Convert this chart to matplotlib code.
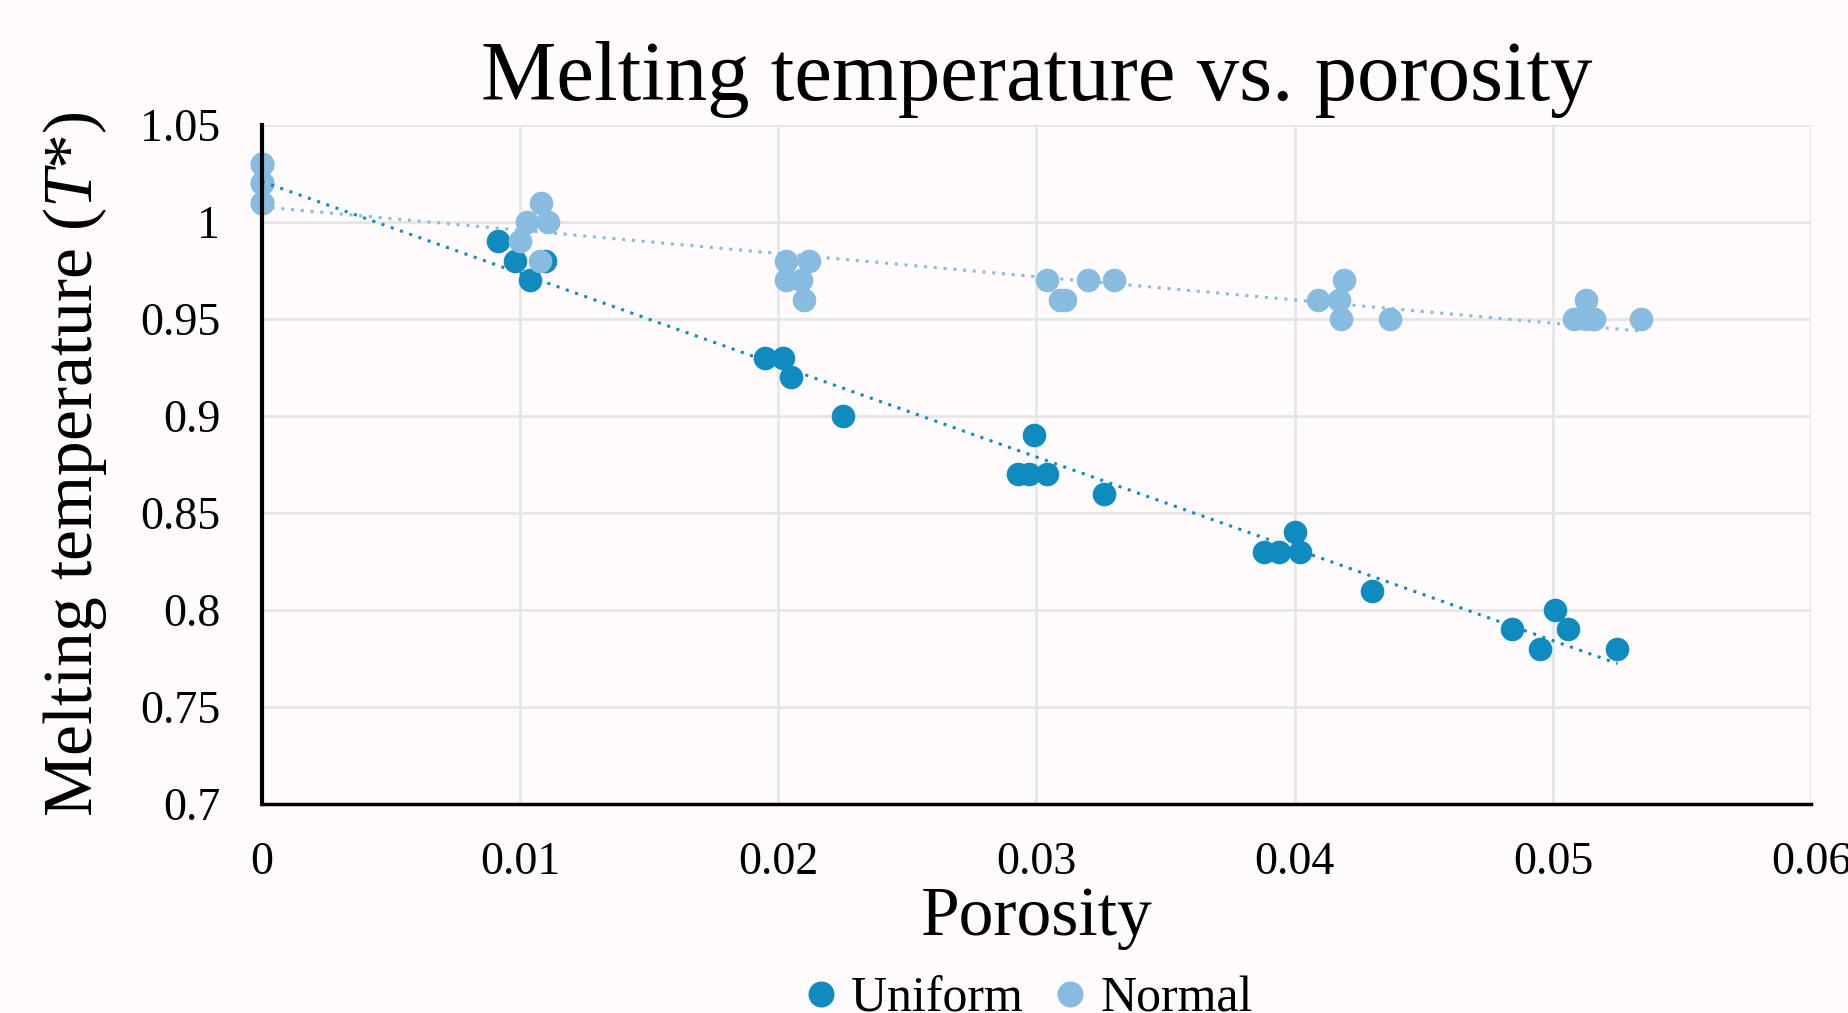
import numpy as np
import matplotlib
matplotlib.use("Agg")
import matplotlib.pyplot as plt

# Porosity / melting temperature
uniform_x = [0.0, 0.0, 0.0, 0.00913, 0.00982, 0.01037, 0.01096,
             0.0195, 0.0202, 0.0205, 0.0225,
             0.0293, 0.0297, 0.0299, 0.0304, 0.0326,
             0.0388, 0.0394, 0.0400, 0.0402, 0.0430,
             0.0484, 0.0495, 0.0501, 0.0506, 0.0525]
uniform_y = [1.03, 1.02, 1.01, 0.99, 0.98, 0.97, 0.98,
             0.93, 0.93, 0.92, 0.90,
             0.87, 0.87, 0.89, 0.87, 0.86,
             0.83, 0.83, 0.84, 0.83, 0.81,
             0.79, 0.78, 0.80, 0.79, 0.78]

normal_x = [0.0, 0.0, 0.0, 0.0100, 0.01027, 0.0108, 0.0111, 0.01078,
            0.0203, 0.0212, 0.0203, 0.0209, 0.0210,
            0.0304, 0.0309, 0.0311, 0.0320, 0.0330,
            0.0409, 0.0417, 0.0419, 0.0418, 0.0437,
            0.0508, 0.0513, 0.0513, 0.0516, 0.0534]
normal_y = [1.03, 1.02, 1.01, 0.99, 1.00, 1.01, 1.00, 0.98,
            0.98, 0.98, 0.97, 0.97, 0.96,
            0.97, 0.96, 0.96, 0.97, 0.97,
            0.96, 0.96, 0.97, 0.95, 0.95,
            0.95, 0.96, 0.95, 0.95, 0.95]

x_ticks = [0, 0.01, 0.02, 0.03, 0.04, 0.05, 0.06]
x_tick_labels = ["0", "0.01", "0.02", "0.03", "0.04", "0.05", "0.06"]
y_ticks = [0.7, 0.75, 0.8, 0.85, 0.9, 0.95, 1.0, 1.05]
y_tick_labels = ["0.7", "0.75", "0.8", "0.85", "0.9", "0.95", "1", "1.05"]

UNIFORM_COLOR = "#0F8BBF"
NORMAL_COLOR = "#88BBE0"
BG = "#FFFBFD"

plt.rcParams["font.family"] = ["Liberation Serif", "DejaVu Serif"]
plt.rcParams["mathtext.fontset"] = "custom"
plt.rcParams["mathtext.it"] = "Liberation Serif:italic"
plt.rcParams["mathtext.rm"] = "Liberation Serif"

fig = plt.figure(figsize=(18.49, 10.13), dpi=100, facecolor=BG)
ax = fig.add_axes([0.1416, 0.2063, 0.8379, 0.6703], facecolor=BG)

# grid
ax.set_axisbelow(True)
ax.grid(True, color="#E6E6E6", linewidth=2)

# scatter points
ax.plot(uniform_x, uniform_y, "o", color=UNIFORM_COLOR, markersize=17,
        markeredgewidth=0, label="Uniform", zorder=3, clip_on=False)
ax.plot(normal_x, normal_y, "o", color=NORMAL_COLOR, markersize=17,
        markeredgewidth=0, label="Normal", zorder=4, clip_on=False)

# linear trendlines
for xs, ys, col in [(uniform_x, uniform_y, UNIFORM_COLOR),
                    (normal_x, normal_y, NORMAL_COLOR)]:
    k, b = np.polyfit(xs, ys, 1)
    xx = np.array([min(xs), max(xs)])
    ax.plot(xx, k * xx + b, linestyle=(0, (1, 2.2)), color=col,
            linewidth=2.2, zorder=5)

ax.set_xlim(0, 0.06)
ax.set_ylim(0.7, 1.05)
ax.set_xticks(x_ticks)
ax.set_xticklabels(x_tick_labels)
ax.set_yticks(y_ticks)
ax.set_yticklabels(y_tick_labels)
ax.tick_params(axis="both", length=0, labelsize=33)
ax.tick_params(axis="x", pad=27)
ax.tick_params(axis="y", pad=30)

for s in ["top", "right"]:
    ax.spines[s].set_visible(False)
ax.spines["left"].set_linewidth(3)
ax.spines["bottom"].set_linewidth(2.5)
ax.spines["left"].set_zorder(6)

ax.set_title("Melting temperature vs. porosity", fontsize=61, pad=18)
ax.set_xlabel("Porosity", fontsize=50, labelpad=2)
ax.set_ylabel(r"Melting temperature ($\mathit{T}$*)", fontsize=50, labelpad=22)

fig.legend(loc="center", bbox_to_anchor=(0.556, 0.014), ncol=2, frameon=False,
           fontsize=36, handlelength=0.7, handletextpad=0.25,
           columnspacing=0.6, markerscale=1.1)

fig.savefig("out.png", dpi=100, facecolor=BG)
